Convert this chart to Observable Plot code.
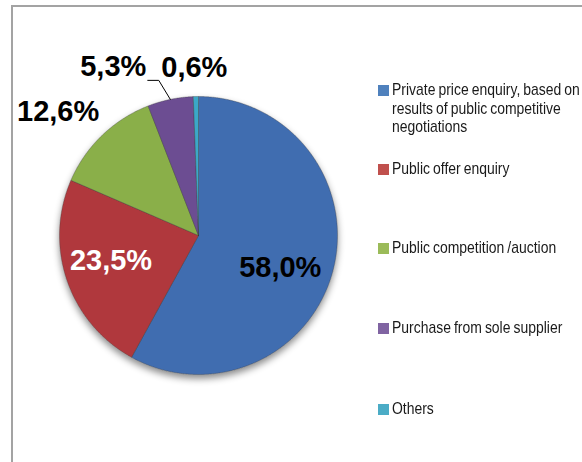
<!DOCTYPE html>
<html><head><meta charset="utf-8">
<script src="https://cdn.jsdelivr.net/npm/d3@7"></script>
<script src="https://cdn.jsdelivr.net/npm/@observablehq/plot@0.6"></script>
<style>
html,body{margin:0;padding:0;width:582px;height:462px;overflow:hidden;background:#fff;}
#frame{position:absolute;left:11px;top:5px;width:900px;height:900px;border-left:2px solid #a3a3a3;border-top:2px solid #a3a3a3;}
#chart{position:absolute;left:0;top:0;}
#legend{position:absolute;left:378px;top:0;font-family:"Liberation Sans",Arial,sans-serif;font-size:17px;line-height:18.5px;color:#1a1a1a;}
.item{position:absolute;left:0;width:260px;}
.sw{position:absolute;left:0;top:4px;width:11px;height:11px;}
.tx{position:absolute;left:14px;top:0;width:245px;transform:scaleX(0.82);transform-origin:0 0;white-space:normal;word-spacing:-1px;}
</style></head><body>
<div id="frame"></div><div id="chart"></div><div id="legend"></div>
<script>
const categories = [
  "Private price enquiry, based on results of public competitive negotiations",
  "Public offer enquiry",
  "Public competition /auction",
  "Purchase from sole supplier",
  "Others"
];
const shares = [58.0, 23.5, 12.6, 5.3, 0.6];
const valueLabels = ["58,0%", "23,5%", "12,6%", "5,3%", "0,6%"];
const sliceColors = ["#416DB0", "#B0393C", "#8AAF4A", "#6C4E92", "#3AA8C8"];
const legendColors = ["#4F81BD", "#C0504D", "#9BBB59", "#8064A2", "#4BACC6"];

// layout (pixels)
const cx = 198, cy = 235, R = 139;
// label placement: radius (in pie radii) at the slice's mid-angle, plus pixel nudges
const labelPlace = [
  {r: 0.6, dx: 1, dy: 21, fill: "#000"},
  {r: 0.65, dx: -2, dy: 5, fill: "#fff"},
  {r: 1.3, dx: -15, dy: 16, fill: "#000"},
  {r: 1.25, dx: -50, dy: 11, fill: "#000"},
  {r: 1.2, dx: -1, dy: 8, fill: "#000"}
];

const total = d3.sum(shares);
let acc = 0;
const slices = shares.map((v, i) => {
  const a0 = acc / total * 2 * Math.PI;
  acc += v;
  const a1 = acc / total * 2 * Math.PI;
  return {name: categories[i], value: v, a0, a1, mid: (a0 + a1) / 2, i};
});
const polar = (a, r) => ({x: r * Math.sin(a), y: r * Math.cos(a)});

const slicePts = [];
for (const s of slices) {
  slicePts.push({name: s.name, x: 0, y: 0});
  const n = Math.max(2, Math.ceil((s.a1 - s.a0) / 0.004));
  for (let k = 0; k <= n; k++) {
    const p = polar(s.a0 + (s.a1 - s.a0) * k / n, 1);
    slicePts.push({name: s.name, ...p});
  }
  slicePts.push({name: s.name, x: 0, y: 0});
}

const labelData = slices.map(s => {
  const p = polar(s.mid, labelPlace[s.i].r);
  return {label: valueLabels[s.i], x: p.x + labelPlace[s.i].dx / R, y: p.y - labelPlace[s.i].dy / R, fill: labelPlace[s.i].fill};
});

// leader line for the small purple slice label
const lp = labelData[3];
const edge = polar(slices[3].mid, 1);
const leader = [
  {x: lp.x + 34.5 / R, y: lp.y - 4 / R},
  {x: lp.x + 45.5 / R, y: lp.y - 4 / R},
  {x: edge.x, y: edge.y}
];

const plot = Plot.plot({
  width: 582,
  height: 462,
  margin: 0,
  style: {background: "transparent", overflow: "visible"},
  x: {domain: [-1, 1], range: [cx - R, cx + R], axis: null},
  y: {domain: [-1, 1], range: [cy + R, cy - R], axis: null},
  color: {domain: categories, range: sliceColors},
  marks: [
    Plot.line(slicePts, {x: "x", y: "y", z: "name", fill: "name", stroke: "#3a3a3a", strokeOpacity: 0.45, strokeWidth: 0.8, curve: "linear"}),
    Plot.line(leader, {x: "x", y: "y", stroke: "#000", strokeWidth: 1}),
    Plot.text(labelData, {x: "x", y: "y", text: "label", fill: d => d.fill, lineAnchor: "bottom", textAnchor: "middle",
      fontFamily: "'Liberation Sans',Arial,sans-serif", fontWeight: "bold", fontSize: 29})
  ]
});

// drop shadow under the pie
const ns = "http://www.w3.org/2000/svg";
const defs = document.createElementNS(ns, "defs");
defs.innerHTML = '<filter id="pieShadow" x="-20%" y="-20%" width="140%" height="140%"><feDropShadow dx="0" dy="4" stdDeviation="3.5" flood-color="#000" flood-opacity="0.45"/></filter>';
plot.insertBefore(defs, plot.firstChild);
const sliceGroup = plot.querySelector('g[aria-label="line"]');
if (sliceGroup) sliceGroup.setAttribute("filter", "url(#pieShadow)");
document.getElementById("chart").appendChild(plot);

// legend
const itemTops = [81, 160, 239, 319, 400];
const legend = d3.select("#legend");
categories.forEach((c, i) => {
  const it = legend.append("div").attr("class", "item").style("top", itemTops[i] + "px");
  it.append("div").attr("class", "sw").style("background", legendColors[i]);
  it.append("div").attr("class", "tx").text(c);
});
</script>
</body></html>
